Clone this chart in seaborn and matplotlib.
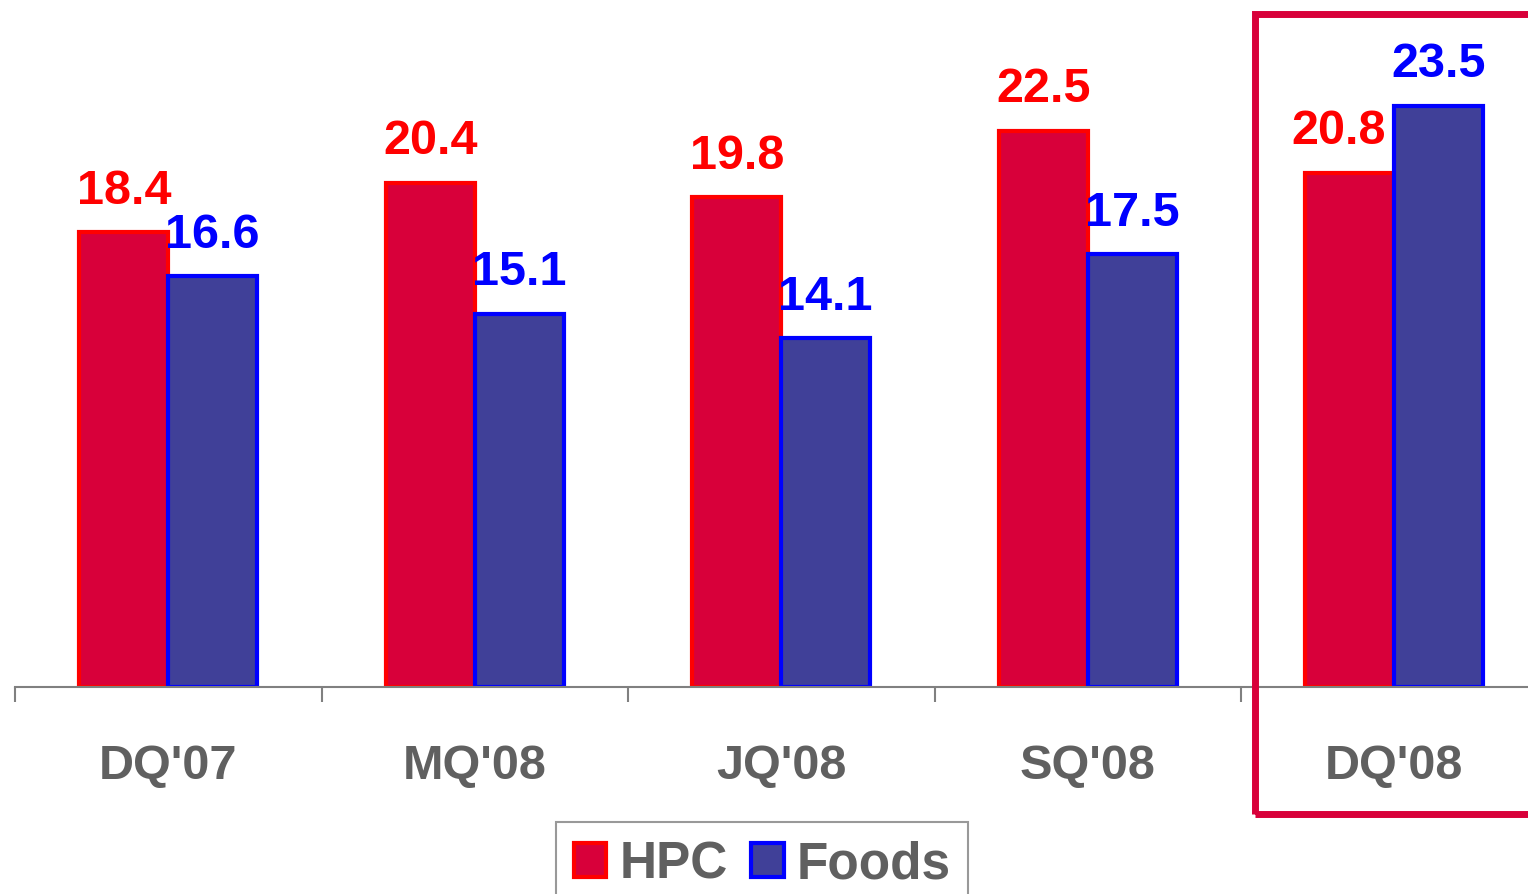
import numpy as np
import pandas as pd
import seaborn as sns
import matplotlib.pyplot as plt
from matplotlib.patches import Rectangle

quarters = ["DQ'07", "MQ'08", "JQ'08", "SQ'08", "DQ'08"]
hpc = [18.4, 20.4, 19.8, 22.5, 20.8]
foods = [16.6, 15.1, 14.1, 17.5, 23.5]
series = ["HPC", "Foods"]

fill_colors = {"HPC": "#D8003A", "Foods": "#404098"}
edge_colors = {"HPC": "#FF0000", "Foods": "#0000FF"}
label_colors = {"HPC": "#FF0000", "Foods": "#0000FF"}
gray = "#606060"

df = pd.DataFrame({
    "quarter": quarters * 2,
    "series": ["HPC"] * len(quarters) + ["Foods"] * len(quarters),
    "value": hpc + foods,
})

sns.set_theme(style="white")
plt.rcParams['font.family'] = ['Liberation Sans', 'DejaVu Sans']
plt.rcParams['font.weight'] = 'bold'

fig = plt.figure(figsize=(15.28, 8.95), dpi=100)
ax = fig.add_axes([15 / 1528, 207 / 895, 1 - 15 / 1528, 688 / 895])

sns.barplot(data=df, x="quarter", y="value", hue="series", hue_order=series,
            order=quarters, palette=fill_colors, width=0.58, saturation=1,
            legend=False, ax=ax)

for name, cont in zip(series, ax.containers):
    for bar in cont:
        bar.set_edgecolor(edge_colors[name])
        bar.set_linewidth(3)
    for i, bar in enumerate(cont):
        val = bar.get_height()
        xoff = 0
        if name == "HPC" and foods[i] > hpc[i]:
            xoff = -8
        ax.annotate(f"{val:.1f}", (bar.get_x() + bar.get_width() / 2, val),
                    xytext=(xoff, 14), textcoords="offset points",
                    ha="center", va="bottom", fontsize=35, fontweight="bold",
                    color=label_colors[name])

ax.set_xlabel("")
ax.set_ylabel("")
ax.set_yticks([])

# group separators as major ticks, quarter names on minor ticks
ax.set_xticks(np.arange(len(quarters)) - 0.5)
ax.set_xticklabels([])
ax.set_xticks(np.arange(len(quarters)), minor=True)
ax.set_xticklabels(quarters, minor=True, fontsize=35, fontweight="bold", color=gray)
ax.tick_params(axis="x", which="major", direction="out", length=11, width=1.5,
               color="#808080", bottom=True)
ax.tick_params(axis="x", which="minor", length=0, pad=40, bottom=True)

ax.set_xlim(-0.5, -0.5 + 1513 / 306.5)
ax.set_ylim(0, 688 / 24.73)

for side in ["top", "right", "left"]:
    ax.spines[side].set_visible(False)
ax.spines["bottom"].set_color("#808080")
ax.spines["bottom"].set_linewidth(1.5)

# highlight frame around the last quarter
fig.patches.append(Rectangle((1255 / 1528, 80 / 895), 0.3, 800 / 895,
                             transform=fig.transFigure, fill=False,
                             edgecolor="#D8003A", linewidth=5, clip_on=False))

leg = fig.legend(handles=list(ax.containers), labels=series,
                 loc="upper center", bbox_to_anchor=(762 / 1528, 72 / 895),
                 ncol=2, fontsize=37, frameon=True, fancybox=False,
                 handlelength=0.64, handleheight=0.64, handletextpad=0.25,
                 columnspacing=0.45, borderpad=0.35, borderaxespad=0)
leg.get_frame().set_edgecolor("#808080")
leg.get_frame().set_linewidth(1.5)
for t in leg.get_texts():
    t.set_color(gray)
    t.set_fontweight("bold")

fig.savefig("out.png", dpi=100)
